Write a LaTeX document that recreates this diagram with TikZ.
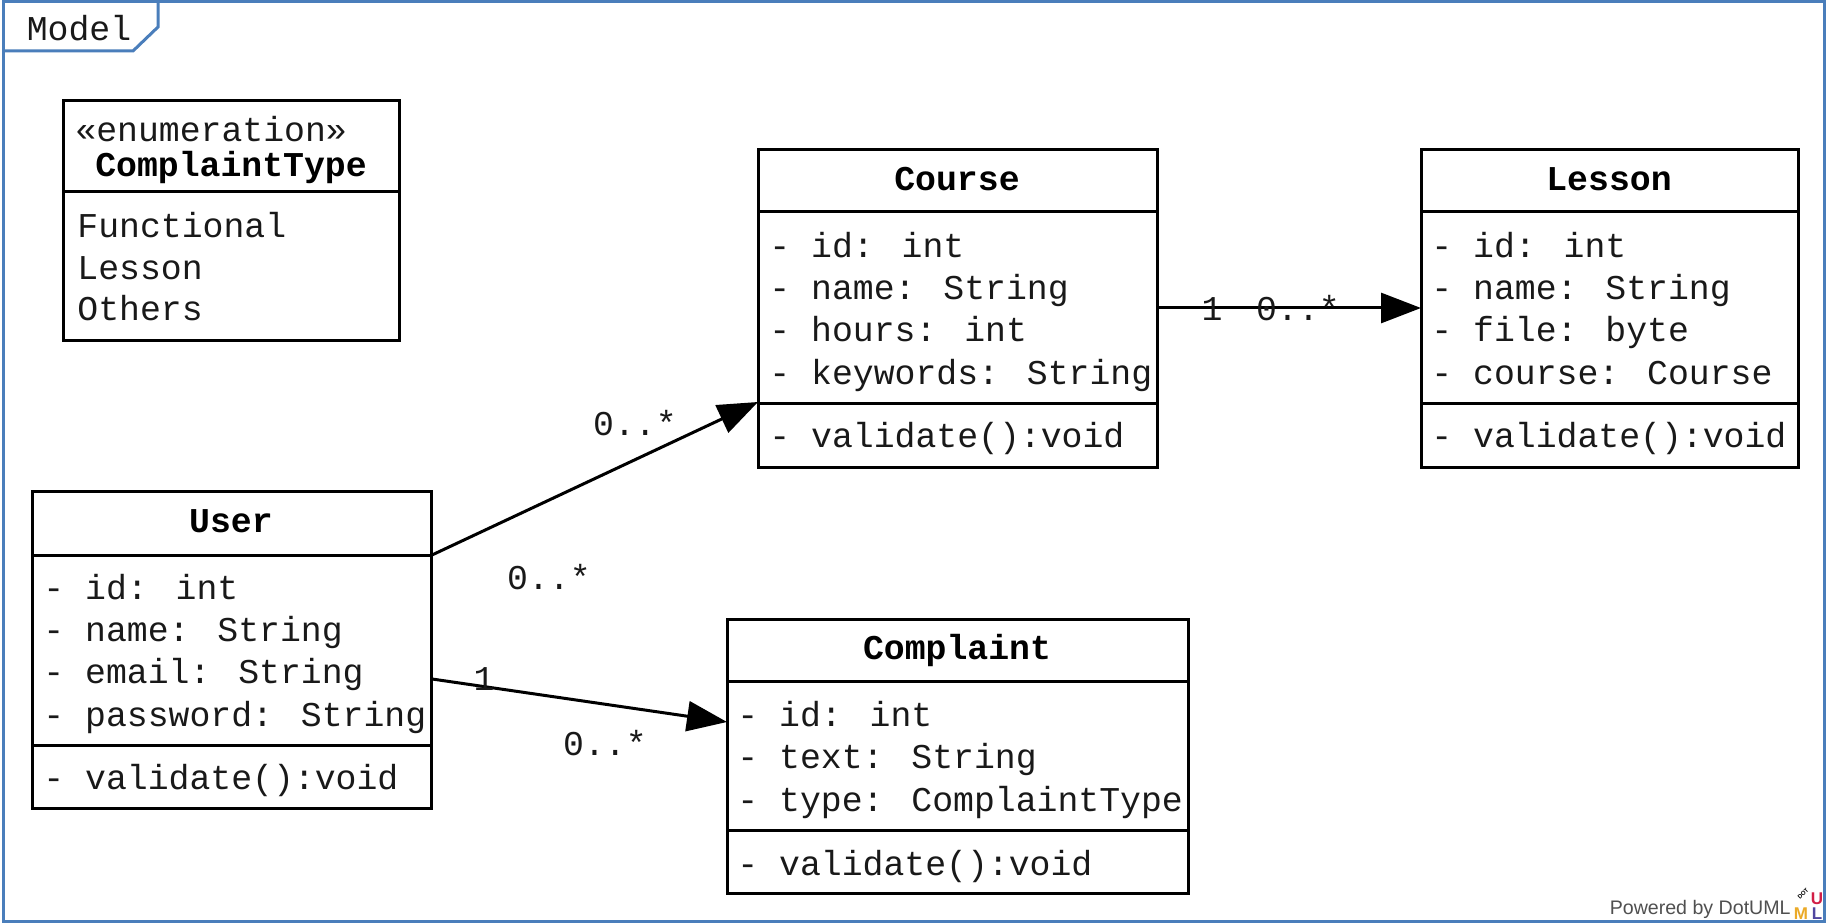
\documentclass[tikz,border=0pt]{standalone}
\usepackage{fontspec}
\newfontfamily\umlmono{Liberation Mono}
\newfontfamily\umlsans{Liberation Sans}
\usetikzlibrary{arrows.meta,fit}
\definecolor{framecol}{RGB}{74,126,187}
\definecolor{powgray}{RGB}{80,80,80}
\definecolor{txtcol}{RGB}{25,25,25}
\definecolor{logored}{RGB}{210,30,70}
\definecolor{logoyel}{RGB}{235,170,40}
\definecolor{logopur}{RGB}{80,70,160}
\begin{document}
\begin{tikzpicture}[x=0.5pt,y=-0.5pt,
  umlbox/.style={draw=black,line width=1.5pt,inner sep=0pt,fill=none},
  divider/.style={draw=black,line width=1.5pt},
  txt/.style={font=\umlmono\fontsize{17.4pt}{21pt}\selectfont,text=txtcol,inner sep=0pt,anchor=base west,xshift=1.5pt,yshift=-1.5pt},
  ttl/.style={font=\umlmono\bfseries\fontsize{17.4pt}{21pt}\selectfont,inner sep=0pt,anchor=base,yshift=-1.5pt},
  mult/.style={font=\umlmono\fontsize{17.4pt}{21pt}\selectfont,text=txtcol,inner sep=0pt,anchor=base,yshift=-1.5pt},
  assoc/.style={draw=black,line width=1.5pt,-{Triangle[length=20pt,width=15pt]}},
  framestyle/.style={draw=framecol,line width=1.5pt}]
\useasboundingbox (0,0) rectangle (1827,924);
\fill[white] (0,0) rectangle (1827,924);
% frame
\draw[framestyle] (3,2) rectangle (1824,921);
\draw[framestyle] (158,2) -- (158,27) -- (133,51) -- (3,51);
\node[mult] (modellbl) at (79,38) {Model};
% ComplaintType
\node[umlbox,fit={(63,101)(399,341)}] (ctype) {};
\draw[divider] (63,192) -- (399,192);
\node[txt] (ctst) at (72,139) {«enumeration»};
\node[ttl] (ctname) at (231,174) {ComplaintType};
\node[txt] (ct1) at (74,235) {Functional};
\node[txt] (ct2) at (74,277) {Lesson};
\node[txt] (ct3) at (74,318) {Others};
% Course
\node[umlbox,fit={(758,150)(1157,468)}] (course) {};
\draw[divider] (758,212) -- (1157,212);
\draw[divider] (758,404) -- (1157,404);
\node[ttl] (coname) at (957,188) {Course};
\node[txt] (co1) at (766,255) {- id: int};
\node[txt] (co2) at (766,297) {- name: String};
\node[txt] (co3) at (766,339) {- hours: int};
\node[txt] (co4) at (766,382) {- keywords: String};
\node[txt] (co5) at (766,445) {- validate():void};
% Lesson
\node[umlbox,fit={(1421,150)(1798,468)}] (lesson) {};
\draw[divider] (1421,212) -- (1798,212);
\draw[divider] (1421,404) -- (1798,404);
\node[ttl] (lename) at (1609,188) {Lesson};
\node[txt] (le1) at (1428,255) {- id: int};
\node[txt] (le2) at (1428,297) {- name: String};
\node[txt] (le3) at (1428,339) {- file: byte};
\node[txt] (le4) at (1428,382) {- course: Course};
\node[txt] (le5) at (1428,445) {- validate():void};
% User
\node[umlbox,fit={(32,492)(431,809)}] (user) {};
\draw[divider] (32,556) -- (431,556);
\draw[divider] (32,746) -- (431,746);
\node[ttl] (usname) at (231,530) {User};
\node[txt] (us1) at (40,597) {- id: int};
\node[txt] (us2) at (40,639) {- name: String};
\node[txt] (us3) at (40,681) {- email: String};
\node[txt] (us4) at (40,723) {- password: String};
\node[txt] (us5) at (40,787) {- validate():void};
% Complaint
\node[umlbox,fit={(727,620)(1188,893)}] (complaint) {};
\draw[divider] (727,682) -- (1188,682);
\draw[divider] (727,830) -- (1188,830);
\node[ttl] (cpname) at (957,657) {Complaint};
\node[txt] (cp1) at (734,723) {- id: int};
\node[txt] (cp2) at (734,766) {- text: String};
\node[txt] (cp3) at (734,809) {- type: ComplaintType};
\node[txt] (cp4) at (734,872) {- validate():void};
% connection points
\coordinate (uA) at (432,555);
\coordinate (cA) at (758,402);
\coordinate (uB) at (432,679);
\coordinate (kB) at (727,722);
\coordinate (cC) at (1157,308);
\coordinate (lC) at (1421,308);
\draw[assoc] (uA) -- (cA);
\draw[assoc] (uB) -- (kB);
\draw[assoc] (cC) -- (lC);
% multiplicities
\node[mult] (m1) at (1212,318) {1};
\node[mult] (m2) at (1298,318) {0..*};
\node[mult] (m3) at (635,433) {0..*};
\node[mult] (m4) at (549,587) {0..*};
\node[mult] (m5) at (484,688) {1};
\node[mult] (m6) at (605,752) {0..*};
% powered by
\node[font=\umlsans\fontsize{9.8pt}{11pt}\selectfont,text=powgray,inner sep=0pt,anchor=base east] (pow) at (1791,914) {Powered by DotUML};
\node[font=\umlsans\bfseries\fontsize{8.5pt}{10pt}\selectfont,text=logored,inner sep=0pt,anchor=base] (logoU) at (1817,904) {U};
\node[font=\umlsans\bfseries\fontsize{8.5pt}{10pt}\selectfont,text=logoyel,inner sep=0pt,anchor=base] (logoM) at (1801,919) {M};
\node[font=\umlsans\bfseries\fontsize{8.5pt}{10pt}\selectfont,text=logopur,inner sep=0pt,anchor=base] (logoL) at (1817,919) {L};
\node[font=\umlsans\bfseries\fontsize{3pt}{4pt}\selectfont,inner sep=0pt,rotate=45] (logoD) at (1803,894) {DOT};
\end{tikzpicture}
\end{document}
